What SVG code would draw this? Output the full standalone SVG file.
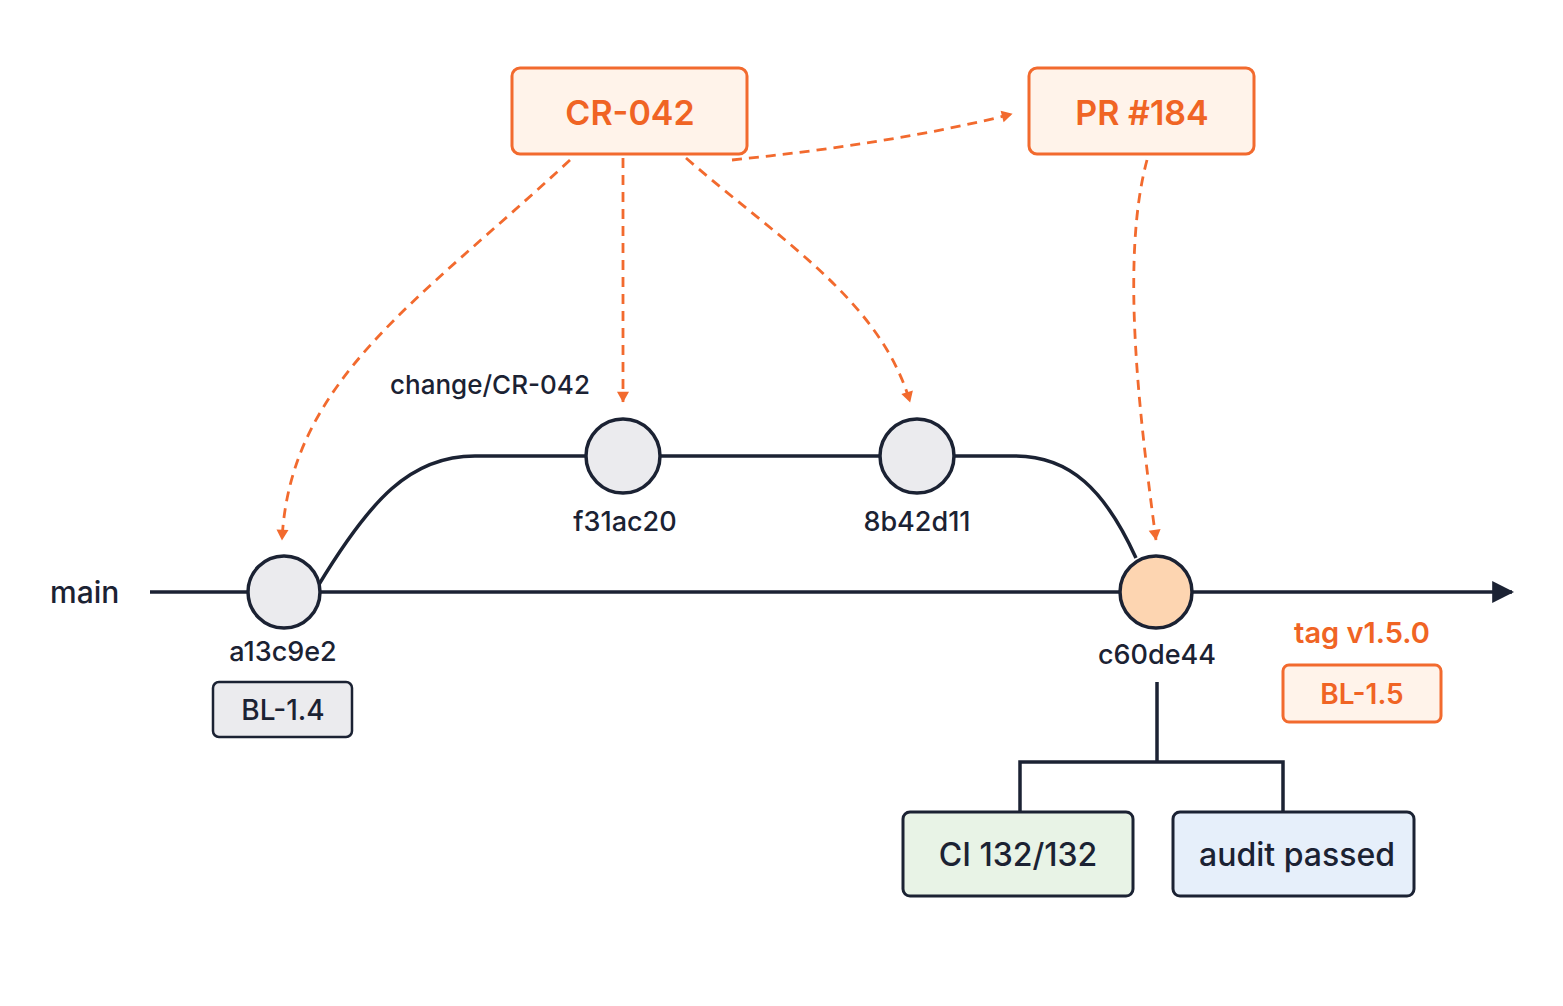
<svg xmlns="http://www.w3.org/2000/svg" width="1563" height="1006" viewBox="0 0 1563 1006">
<style>
.t{font-family:Inter,"Liberation Sans",sans-serif;fill:#1b2233;font-weight:500}
.o{fill:#f06424;font-weight:600}
.ob{fill:#fff3ea;stroke:#f26a2e;stroke-width:3}
.d{fill:none;stroke:#f26a2e;stroke-width:2.8;stroke-dasharray:10 7}
.c{fill:#ebebee;stroke:#1b2233;stroke-width:3.5}
.l{fill:none;stroke:#1b2233;stroke-width:3.5}
</style>
<defs>
<marker id="oa" viewBox="0 0 10 10" refX="9" refY="5" markerWidth="6" markerHeight="6" orient="auto" markerUnits="userSpaceOnUse" style="overflow:visible"><path d="M-8,-5 L10,5 L-8,15 Z" transform="scale(1)" fill="#f26a2e"/></marker>
<marker id="ka" viewBox="0 0 20 20" refX="18" refY="10" markerWidth="22" markerHeight="22" orient="auto" markerUnits="userSpaceOnUse"><path d="M0,0 L20,10 L0,20 Z" fill="#1b2233"/></marker>
</defs>
<rect width="1563" height="1006" fill="#fff"/>
<g id="connectors">
<path class="l" d="M150,592 H1512" marker-end="url(#ka)"/>
<path class="l" d="M318,586 C370,500 410,456 475,456 H1015 C1070,456 1105,490 1136,558"/>
<path class="l" d="M1157,682 V762 M1020,812 V762 H1283 V812"/>
<g fill="none">
<path class="d" d="M570,160 C420,300 290,380 282,540" marker-end="url(#oa)"/>
<path class="d" d="M623,158 V402" marker-end="url(#oa)"/>
<path class="d" d="M686,158 C780,240 880,300 910,402" marker-end="url(#oa)"/>
<path class="d" d="M732,160 C830,150 930,135 1012,114" marker-end="url(#oa)"/>
<path class="d" d="M1147,160 C1120,260 1140,420 1156,540" marker-end="url(#oa)"/>
</g>
</g>
<g id="cr042"><rect class="ob" x="512" y="68" width="235" height="86" rx="8"/><text class="t o" x="630" y="125" font-size="34" text-anchor="middle">CR-042</text></g>
<g id="pr184"><rect class="ob" x="1029" y="68" width="225" height="86" rx="8"/><text class="t o" x="1142" y="125" font-size="34" text-anchor="middle">PR #184</text></g>
<g id="main"><text class="t" x="50" y="603" font-size="30" font-weight="700">main</text></g>
<g id="branch"><text class="t" x="490" y="394" font-size="26" text-anchor="middle">change/CR-042</text></g>
<g id="a13c9e2"><circle class="c" cx="284" cy="592" r="36"/><text class="t" x="283" y="661" font-size="27" text-anchor="middle">a13c9e2</text></g>
<g id="f31ac20"><circle class="c" cx="623" cy="456" r="37"/><text class="t" x="625" y="531" font-size="27" text-anchor="middle">f31ac20</text></g>
<g id="8b42d11"><circle class="c" cx="917" cy="456" r="37"/><text class="t" x="917" y="531" font-size="27" text-anchor="middle">8b42d11</text></g>
<g id="c60de44"><circle class="c" cx="1156" cy="592" r="36" fill="#fdd5b1" style="fill:#fdd5b1"/><text class="t" x="1157" y="664" font-size="27" text-anchor="middle">c60de44</text></g>
<g id="bl14"><rect x="213" y="682" width="139" height="55" rx="6" fill="#ebebee" stroke="#1b2233" stroke-width="2.5"/><text class="t" x="283" y="720" font-size="28" text-anchor="middle">BL-1.4</text></g>
<g id="tag"><text class="t o" x="1362" y="643" font-size="29" text-anchor="middle">tag v1.5.0</text></g>
<g id="bl15"><rect class="ob" x="1283" y="665" width="158" height="57" rx="6"/><text class="t o" x="1362" y="704" font-size="28" text-anchor="middle">BL-1.5</text></g>
<g id="ci"><rect x="903" y="812" width="230" height="84" rx="7" fill="#e8f3e6" stroke="#1b2233" stroke-width="3"/><text class="t" x="1018" y="866" font-size="32" text-anchor="middle">CI 132/132</text></g>
<g id="audit"><rect x="1173" y="812" width="241" height="84" rx="7" fill="#e6effa" stroke="#1b2233" stroke-width="3"/><text class="t" x="1297" y="866" font-size="32" text-anchor="middle">audit passed</text></g>
</svg>
